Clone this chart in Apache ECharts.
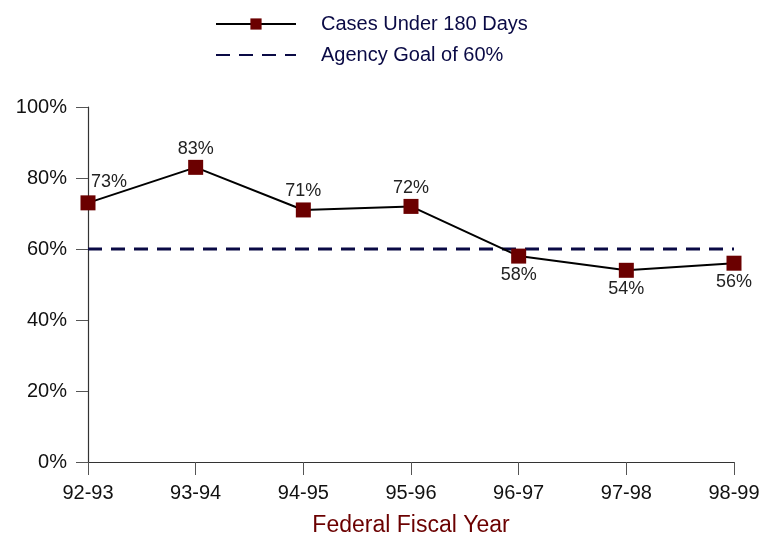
<!DOCTYPE html>
<html>
<head>
<meta charset="utf-8">
<script src="https://cdn.jsdelivr.net/npm/echarts@6/dist/echarts.min.js"></script>
<style>html,body{margin:0;padding:0;background:#fff;}#c{width:770px;height:537px;}</style>
</head>
<body>
<div id="c"></div>
<script>
var categories = ['92-93', '93-94', '94-95', '95-96', '96-97', '97-98', '98-99'];
var casesUnder180 = [73, 83, 71, 72, 58, 54, 56];
var agencyGoal = [60, 60, 60, 60, 60, 60, 60];
var labelSides = ['topright', 'top', 'top', 'top', 'bottom', 'bottom', 'bottom'];

var font = '"Liberation Sans", Arial, sans-serif';
var chart = echarts.init(document.getElementById('c'), null, {renderer: 'canvas'});

var caseData = casesUnder180.map(function (v, i) {
  var side = labelSides[i];
  var lbl = side === 'topright' ? {position: 'top', offset: [21, -2]} : {position: side};
  return {value: v, label: lbl};
});

chart.setOption({
  animation: false,
  backgroundColor: '#fff',
  grid: {left: 88, right: 36, top: 107, bottom: 75, outerBoundsMode: 'none', containLabel: false},
  legend: {
    orient: 'vertical',
    left: 210,
    top: 9,
    itemWidth: 80,
    itemHeight: 14,
    itemGap: 11,
    textStyle: {fontFamily: font, fontSize: 20, color: '#0a0a45', padding: [0, 0, 0, 20]},
    data: [
      {name: 'Cases Under 180 Days'},
      {name: 'Agency Goal of 60%', itemStyle: {opacity: 0}}
    ]
  },
  xAxis: {
    type: 'category',
    data: categories,
    boundaryGap: false,
    axisLine: {lineStyle: {color: '#333', width: 1.2}},
    axisTick: {show: true, length: 13, lineStyle: {color: '#555'}},
    axisLabel: {fontFamily: font, fontSize: 20, color: '#111', margin: 21},
    name: 'Federal Fiscal Year',
    nameLocation: 'middle',
    nameGap: 52,
    nameTextStyle: {fontFamily: font, fontSize: 23, color: '#6b0000'}
  },
  yAxis: {
    type: 'value',
    min: 0,
    max: 100,
    interval: 20,
    splitLine: {show: false},
    axisLine: {show: true, lineStyle: {color: '#333', width: 1.2}},
    axisTick: {show: true, length: 12, lineStyle: {color: '#555'}},
    axisLabel: {fontFamily: font, fontSize: 20, color: '#111', margin: 21, formatter: '{value}%'}
  },
  series: [
    {
      name: 'Cases Under 180 Days',
      type: 'line',
      data: caseData,
      symbol: 'rect',
      symbolSize: 15,
      z: 3,
      lineStyle: {color: '#000', width: 2},
      itemStyle: {color: '#6b0000', borderWidth: 0},
      label: {show: true, fontFamily: font, fontSize: 18, color: '#222', distance: 2, formatter: '{c}%'}
    },
    {
      name: 'Agency Goal of 60%',
      type: 'line',
      data: agencyGoal,
      symbol: 'none',
      z: 2,
      lineStyle: {color: '#0a0a45', width: 3, type: [14, 9]},
      itemStyle: {color: '#0a0a45'}
    }
  ]
});
</script>
</body>
</html>
